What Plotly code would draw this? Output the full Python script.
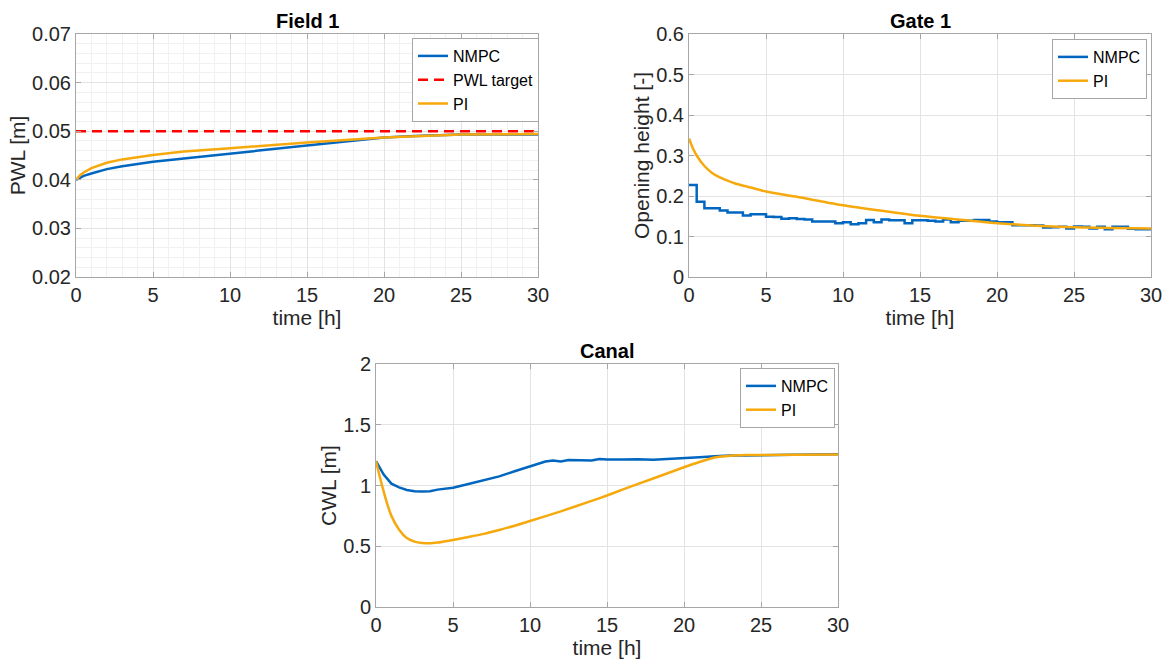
import plotly.graph_objects as go

# ---------------- data ----------------
# Field 1 (PWL)
field_t_nmpc = [0, 0.5, 1, 2, 3, 5, 7, 10, 12, 15, 18, 20, 22, 25, 30]
field_nmpc = [0.0400, 0.0408, 0.0413, 0.0422, 0.0428, 0.0437, 0.0444, 0.0454, 0.0460, 0.0471, 0.0480,
              0.0487, 0.0490, 0.0493, 0.0493]
field_t_pi = [0, 0.25, 0.5, 1, 2, 3, 5, 7, 10, 15, 20, 25, 30]
field_pi = [0.0400, 0.0409, 0.0415, 0.0424, 0.0435, 0.0442, 0.0451, 0.0458, 0.0465, 0.0477, 0.0487,
            0.0493, 0.0494]
field_target = [0.05, 0.05]
field_t_target = [0, 30]

# Gate 1 (opening height)
gate_t_nmpc = [i * 0.5 for i in range(61)]
gate_nmpc = [0.227, 0.186, 0.170, 0.170, 0.164, 0.159, 0.159, 0.152, 0.155, 0.155,
             0.149, 0.148, 0.144, 0.145, 0.143, 0.142, 0.137, 0.137, 0.137, 0.133,
             0.135, 0.130, 0.133, 0.141, 0.135, 0.142, 0.140, 0.140, 0.133, 0.140,
             0.140, 0.139, 0.137, 0.142, 0.135, 0.139, 0.139, 0.141, 0.141, 0.137,
             0.135, 0.135, 0.128, 0.128, 0.128, 0.127, 0.122, 0.123, 0.124, 0.120,
             0.125, 0.124, 0.120, 0.124, 0.118, 0.124, 0.124, 0.119, 0.118, 0.118,
             0.118]
gate_t_pi = [0, 0.25, 0.5, 1, 1.5, 2, 2.5, 3, 4, 5, 7, 10, 12, 15, 18, 20, 22, 25, 30]
gate_pi = [0.342, 0.318, 0.300, 0.274, 0.257, 0.246, 0.238, 0.231, 0.221, 0.211, 0.198, 0.177,
           0.166, 0.151, 0.140, 0.133, 0.128, 0.123, 0.120]

# Canal (CWL)
canal_t_nmpc = [0, 0.5, 1, 1.5, 2, 2.5, 3, 3.5, 4, 5, 6, 7, 8, 9, 10, 11, 11.5, 12, 12.5, 13, 14,
                14.5, 15, 16, 17, 18, 19, 20, 21, 22, 23, 24, 25, 27, 30]
canal_nmpc = [1.20, 1.09, 1.015, 0.985, 0.963, 0.952, 0.950, 0.953, 0.966, 0.982, 1.012, 1.043,
              1.075, 1.117, 1.158, 1.197, 1.206, 1.198, 1.210, 1.207, 1.205, 1.218, 1.213, 1.214,
              1.216, 1.211, 1.216, 1.226, 1.232, 1.240, 1.247, 1.247, 1.251, 1.254, 1.258]
canal_t_pi = [0, 0.25, 0.5, 0.75, 1, 1.5, 2, 2.5, 3, 3.5, 4, 5, 6, 7, 8, 9, 10, 12, 14, 15, 16,
              18, 20, 21, 22, 23, 24, 25, 30]
canal_pi = [1.20, 1.07, 0.95, 0.84, 0.75, 0.636, 0.568, 0.538, 0.527, 0.524, 0.530, 0.552, 0.576,
            0.602, 0.634, 0.669, 0.708, 0.787, 0.873, 0.918, 0.966, 1.058, 1.150, 1.193, 1.230,
            1.245, 1.250, 1.251, 1.255]

# ---------------- styling ----------------
W, H = 1169, 659
FONT = "Liberation Sans, Arial, sans-serif"
BLUE = "#0066BF"
ORANGE = "#F6A90C"
RED = "#FF0000"
AXC = "#a6a6a6"
GRID = "#e3e3e3"
MINOR = "#f1f1f1"
TXT = "#262626"
LW = 2.5


def px_x(p):
    return p / W


def px_y(p):
    return 1 - p / H


fig = go.Figure()

# Field 1
fig.add_trace(go.Scatter(x=field_t_nmpc, y=field_nmpc, mode="lines", name="NMPC",
                         line=dict(color=BLUE, width=LW), xaxis="x", yaxis="y", legend="legend"))
fig.add_trace(go.Scatter(x=field_t_target, y=field_target, mode="lines", name="PWL target",
                         line=dict(color=RED, width=LW, dash="10px,6px"), xaxis="x", yaxis="y",
                         legend="legend"))
fig.add_trace(go.Scatter(x=field_t_pi, y=field_pi, mode="lines", name="PI",
                         line=dict(color=ORANGE, width=LW), xaxis="x", yaxis="y", legend="legend"))

# Gate 1
fig.add_trace(go.Scatter(x=gate_t_nmpc, y=gate_nmpc, mode="lines", name="NMPC",
                         line=dict(color=BLUE, width=LW, shape="hv"), xaxis="x2", yaxis="y2",
                         legend="legend2"))
fig.add_trace(go.Scatter(x=gate_t_pi, y=gate_pi, mode="lines", name="PI",
                         line=dict(color=ORANGE, width=LW, shape="spline", smoothing=0.6),
                         xaxis="x2", yaxis="y2", legend="legend2"))

# Canal
fig.add_trace(go.Scatter(x=canal_t_nmpc, y=canal_nmpc, mode="lines", name="NMPC",
                         line=dict(color=BLUE, width=LW), xaxis="x3", yaxis="y3", legend="legend3"))
fig.add_trace(go.Scatter(x=canal_t_pi, y=canal_pi, mode="lines", name="PI",
                         line=dict(color=ORANGE, width=LW, shape="spline", smoothing=0.6),
                         xaxis="x3", yaxis="y3", legend="legend3"))


def xaxis(domain, anchor, minor=False):
    d = dict(domain=domain, anchor=anchor, range=[0, 30], tickmode="linear", tick0=0, dtick=5,
             showline=True, linecolor=AXC, linewidth=1, mirror="ticks", ticks="inside",
             ticklen=5, tickcolor=AXC, showgrid=True, gridcolor=GRID, zeroline=False,
             automargin=False,
             tickfont=dict(family=FONT, size=20, color=TXT),
             title=dict(text="time [h]", font=dict(family=FONT, size=21, color=TXT), standoff=3),
             ticklabelstandoff=0)
    if minor:
        d["minor"] = dict(dtick=1, tick0=0, showgrid=True, gridcolor=MINOR, ticks="")
    return d


def yaxis(domain, anchor, rng, dtick, title, fmt, minor_dtick=None):
    d = dict(domain=domain, anchor=anchor, range=rng, tickmode="linear", tick0=rng[0], dtick=dtick,
             showline=True, linecolor=AXC, linewidth=1, mirror="ticks", ticks="inside",
             ticklen=5, tickcolor=AXC, showgrid=True, gridcolor=GRID, zeroline=False,
             automargin=False,
             tickformat=fmt, tickfont=dict(family=FONT, size=20, color=TXT),
             title=dict(text=title, font=dict(family=FONT, size=21, color=TXT), standoff=0),
             ticklabelstandoff=0)
    if minor_dtick:
        d["minor"] = dict(dtick=minor_dtick, tick0=rng[0], showgrid=True, gridcolor=MINOR, ticks="")
    return d


top = [px_y(277), px_y(34)]
bot = [px_y(607), px_y(364)]

legend_common = dict(bgcolor="white", bordercolor=AXC, borderwidth=1,
                     font=dict(family=FONT, size=16, color="black"), itemwidth=30,
                     xanchor="right", yanchor="top", tracegroupgap=0)

fig.update_layout(
    width=W, height=H, margin=dict(l=0, r=0, t=0, b=0, autoexpand=False),
    paper_bgcolor="white", plot_bgcolor="white",
    font=dict(family=FONT, color=TXT),
    xaxis=xaxis([px_x(76), px_x(538)], "y", minor=True),
    yaxis=yaxis(top, "x", [0.02, 0.07], 0.01, "PWL [m]", ".2f", minor_dtick=0.002),
    xaxis2=xaxis([px_x(689), px_x(1151)], "y2"),
    yaxis2=yaxis(top, "x2", [0, 0.6], 0.1, "Opening height [-]", "~g"),
    xaxis3=xaxis([px_x(376), px_x(838)], "y3"),
    yaxis3=yaxis(bot, "x3", [0, 2], 0.5, "CWL [m]", "~g"),
    legend=dict(x=px_x(539), y=px_y(38), **legend_common),
    legend2=dict(x=px_x(1147), y=px_y(39), **legend_common),
    legend3=dict(x=px_x(835), y=px_y(368), **legend_common),
    showlegend=True,
)

titles = [("Field 1", (76 + 538) / 2, 21), ("Gate 1", (689 + 1151) / 2, 21), ("Canal", (376 + 838) / 2, 351)]
for txt, cx, cy in titles:
    fig.add_annotation(text=f"<b>{txt}</b>", x=px_x(cx), y=px_y(cy), xref="paper", yref="paper",
                       xanchor="center", yanchor="middle", showarrow=False,
                       font=dict(family=FONT, size=20, color="black"))

fig.write_html("out.html", config={"displayModeBar": False},
               post_script="document.body.style.margin='0';document.body.style.overflow='hidden';")
